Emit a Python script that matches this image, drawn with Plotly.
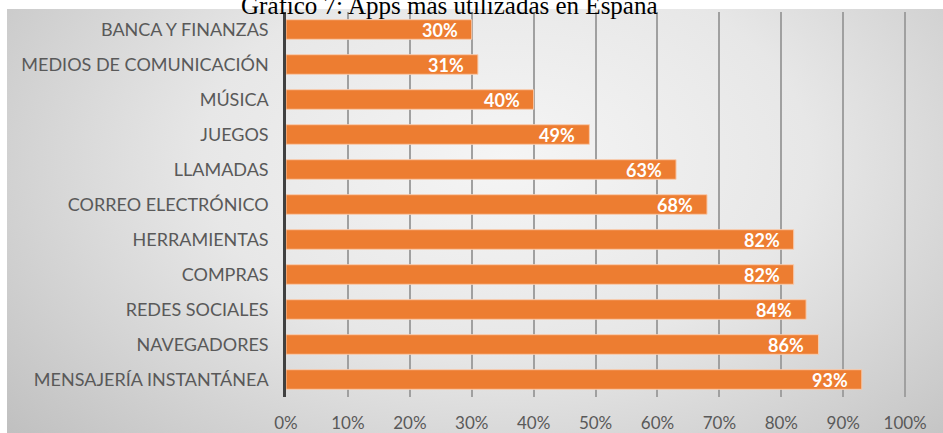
import base64
import plotly.graph_objects as go

# Share of users per app category (top to bottom as displayed)
categories = [
    "BANCA Y FINANZAS",
    "MEDIOS DE COMUNICACIÓN",
    "MÚSICA",
    "JUEGOS",
    "LLAMADAS",
    "CORREO ELECTRÓNICO",
    "HERRAMIENTAS",
    "COMPRAS",
    "REDES SOCIALES",
    "NAVEGADORES",
    "MENSAJERÍA INSTANTÁNEA",
]
values = [30, 31, 40, 49, 63, 68, 82, 82, 84, 86, 93]
x_ticks = [0, 10, 20, 30, 40, 50, 60, 70, 80, 90, 100]
x_tick_labels = ["0%", "10%", "20%", "30%", "40%", "50%", "60%", "70%", "80%", "90%", "100%"]
title_text = "Gráfico 7: Apps más utilizadas en España"

W, H = 943, 433
M_L, M_R, M_T, M_B = 286, 36, 12, 36
plot_w = W - M_L - M_R
plot_h = H - M_T - M_B

# Soft radial background panel behind the chart
box_x0, box_y0 = 7, 9
box_w, box_h = W - box_x0, H - box_y0
svg = f"""<svg xmlns='http://www.w3.org/2000/svg' width='{box_w}' height='{box_h}' viewBox='0 0 {box_w} {box_h}' preserveAspectRatio='none'>
<defs><radialGradient id='g' gradientUnits='userSpaceOnUse' cx='500' cy='150' r='540'
 gradientTransform='translate(500 150) scale(1.25 0.8) translate(-500 -150)'>
<stop offset='0' stop-color='#f5f5f5'/>
<stop offset='0.45' stop-color='#e7e7e7'/>
<stop offset='1' stop-color='#bebebe'/>
</radialGradient></defs>
<rect x='0' y='0' width='{box_w}' height='{box_h}' fill='url(#g)'/>
</svg>"""
bg_src = "data:image/svg+xml;base64," + base64.b64encode(svg.encode("utf-8")).decode("ascii")

fig = go.Figure()
fig.add_trace(go.Bar(
    x=values,
    y=categories,
    orientation="h",
    marker=dict(color="#ED7D31", line=dict(color="#F8CBAD", width=1)),
    hoverinfo="skip",
))

# Value labels at the inner end of each bar
for cat, v in zip(categories, values):
    fig.add_annotation(
        x=v, y=cat, xref="x", yref="y",
        text=f"<b>{v}%</b>",
        showarrow=False, xanchor="right", yanchor="middle", xshift=-12,
        font=dict(family="Lato", size=18, color="#FFFFFF"),
    )

fig.add_annotation(
    x=(W / 2 - 22 - M_L) / plot_w, y=1 + (M_T - 5) / plot_h,
    xref="paper", yref="paper", xanchor="center", yanchor="middle",
    text=title_text, showarrow=False,
    font=dict(family="Liberation Serif", size=25, color="#000000"),
)

fig.add_layout_image(
    source=bg_src, xref="paper", yref="paper",
    x=(box_x0 - M_L) / plot_w, y=1 + (M_T - box_y0) / plot_h,
    sizex=box_w / plot_w, sizey=box_h / plot_h,
    xanchor="left", yanchor="top", sizing="stretch", layer="below",
)

fig.update_layout(
    width=W, height=H,
    margin=dict(l=M_L, r=M_R, t=M_T, b=M_B, pad=0, autoexpand=False),
    paper_bgcolor="#FFFFFF",
    plot_bgcolor="rgba(0,0,0,0)",
    showlegend=False,
    bargap=0.44,
    font=dict(family="Lato", color="#595959"),
)
fig.update_xaxes(
    range=[0, 100.3],
    tickvals=x_ticks, ticktext=x_tick_labels,
    showgrid=True, gridcolor="#A0A0A0", gridwidth=1.5,
    zeroline=False, showline=False, ticks="",
    ticklabelstandoff=14, automargin=False,
    tickfont=dict(family="Lato", size=17, color="#595959"),
    fixedrange=True,
)
fig.update_yaxes(
    categoryorder="array", categoryarray=categories, autorange="reversed",
    showgrid=False, zeroline=False,
    showline=True, linecolor="#404040", linewidth=2.5,
    ticks="", ticklabelstandoff=11, automargin=False,
    tickfont=dict(family="Lato", size=18, color="#595959"),
    fixedrange=True,
)

fig.write_html("out.html", config={"displayModeBar": False})
